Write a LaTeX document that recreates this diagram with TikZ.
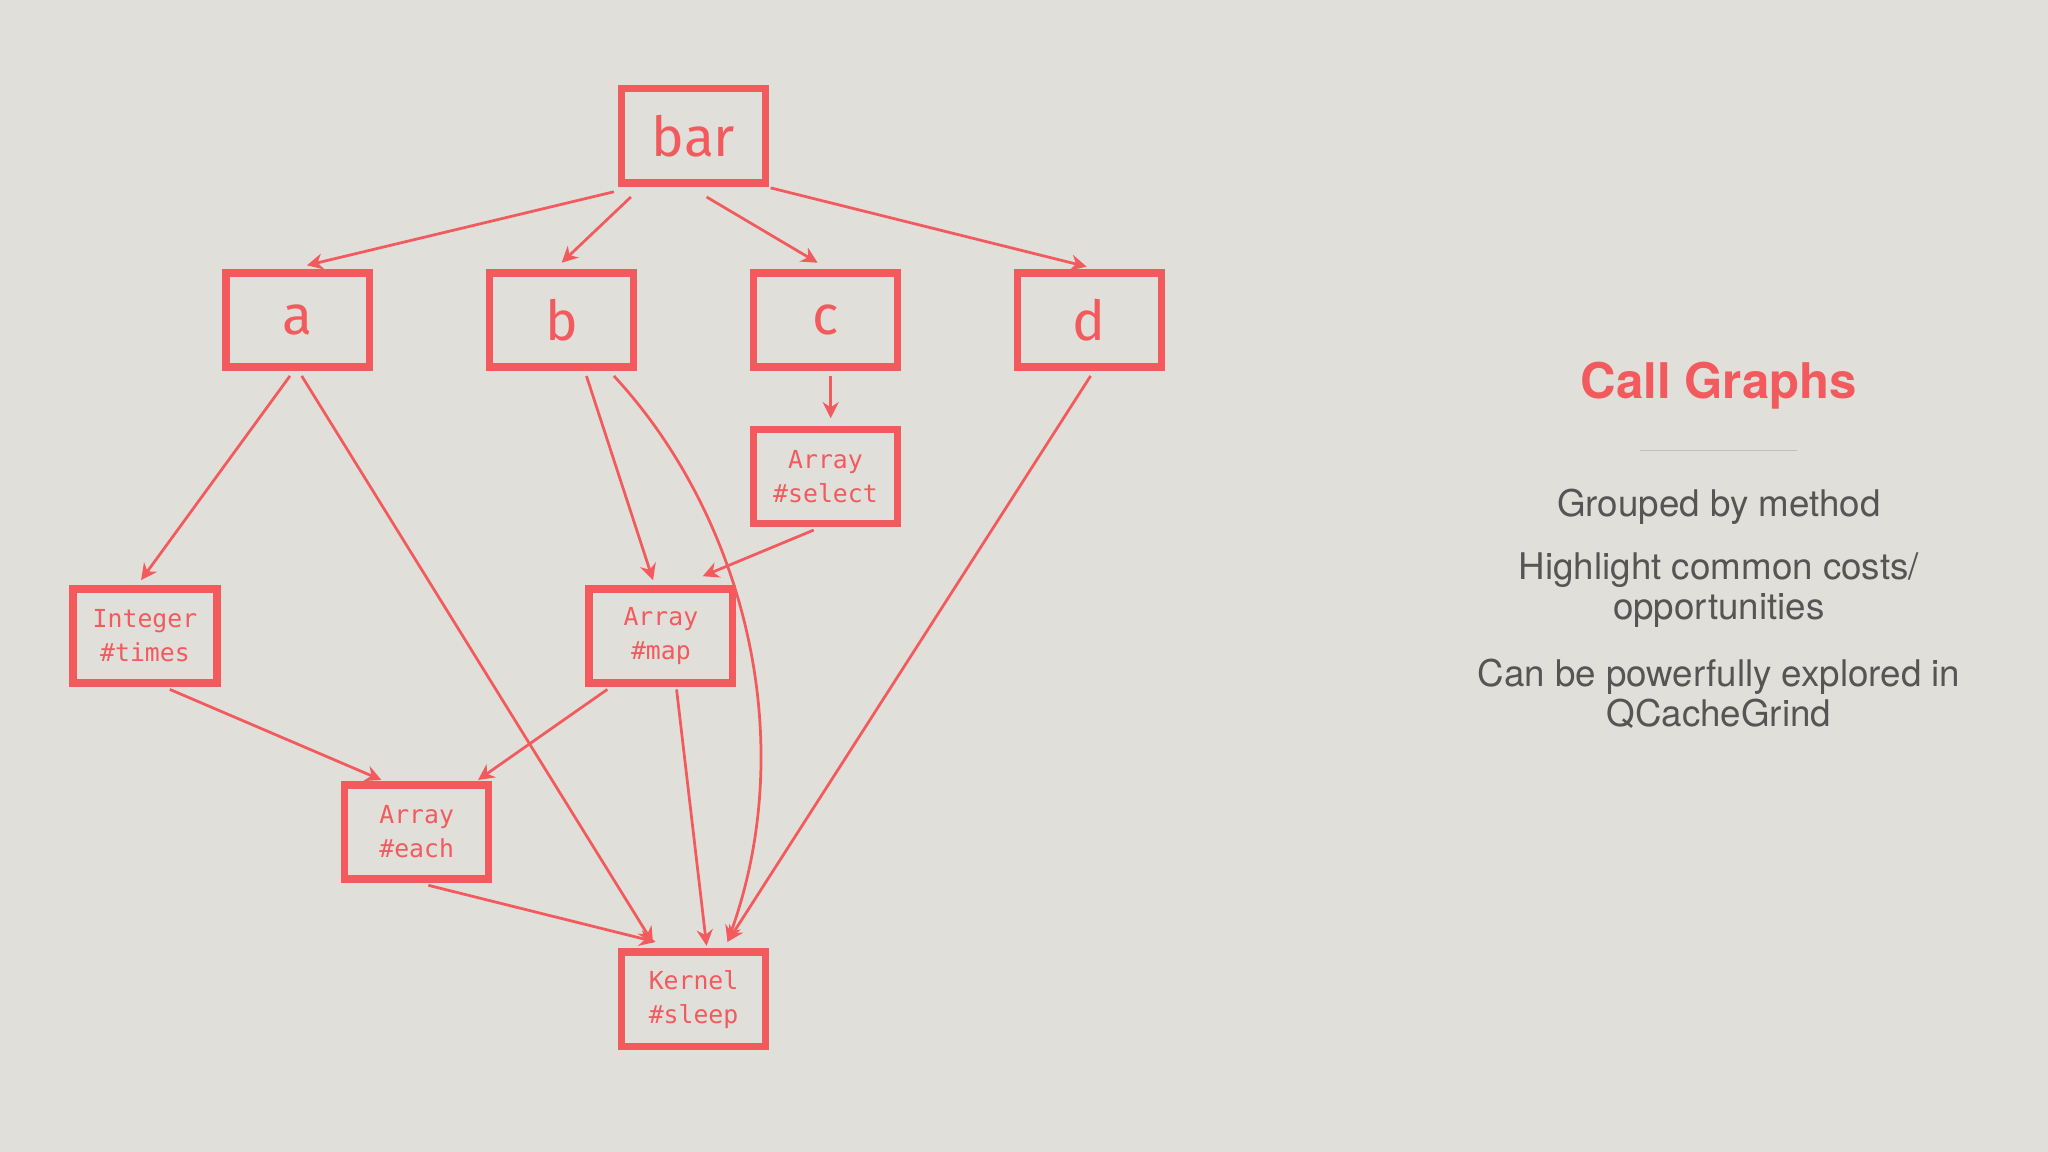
\documentclass[tikz,border=0pt]{standalone}
\usepackage{fontspec}
\setmainfont{TeX Gyre Heros}
\newfontfamily\labfont{Fira Sans}
\newfontfamily\codefont{DejaVu Sans Mono}
\usetikzlibrary{arrows.meta}
\definecolor{bgc}{HTML}{E0DFD9}
\definecolor{redc}{HTML}{F25A5E}
\definecolor{txtc}{HTML}{555555}
\tikzset{
  box/.style={draw=redc,line width=1.6pt,minimum width=1.1cm,minimum height=0.72cm,inner sep=0pt,text=redc,align=center},
  big/.style={box,font=\labfont\fontsize{12}{12}\selectfont},
  code/.style={box,font=\codefont\fontsize{5.4}{7.4}\selectfont},
  edge/.style={draw=redc,line width=0.6pt,-{Stealth[length=3.5pt,width=3.5pt]}},
}
\begin{document}
\begin{tikzpicture}[x=0.01cm,y=-0.01cm]
\fill[bgc] (0,0) rectangle (1568,882);
\useasboundingbox (0,0) rectangle (1568,882);
\node[big] (bar) at (531,104) {bar};
\node[big] (a) at (228,245) {a};
\node[big] (b) at (430,245) {b};
\node[big] (c) at (632,245) {c};
\node[big] (d) at (834,245) {d};
\node[code] (sel) at (632,365) {Array\\\#select};
\node[code] (int) at (111,487) {Integer\\\#times};
\node[code] (map) at (506,487) {Array\\\#map};
\node[code] (each) at (319,637) {Array\\\#each};
\node[code] (ker) at (531,765) {Kernel\\\#sleep};
\draw[edge] ([shift={(-61,4)}]bar.south) -- ([shift={(7,-3)}]a.north);
\draw[edge] ([shift={(-48,8)}]bar.south) -- ([shift={(0,-5)}]b.north);
\draw[edge] ([shift={(10,8)}]bar.south) -- ([shift={(-6,-5)}]c.north);
\draw[edge] ([shift={(59,1)}]bar.south) -- ([shift={(-2,-2)}]d.north);
\draw[edge] ([shift={(4,4)}]c.south) -- ([shift={(4,-6)}]sel.north);
\draw[edge] ([shift={(-6,4)}]a.south) -- ([shift={(-3,-4)}]int.north);
\draw[edge] ([shift={(3,4)}]a.south) -- ([shift={(-31,-4)}]ker.north);
\draw[edge] ([shift={(19,4)}]b.south) -- ([shift={(-6,-4)}]map.north);
\draw[edge] ([shift={(40,4)}]b.south) .. controls (565,390) and (615,560) .. ([shift={(26,-5)}]ker.north);
\draw[edge] ([shift={(-9,2)}]sel.south) -- ([shift={(32,-7)}]map.north);
\draw[edge] ([shift={(19,2)}]int.south) -- ([shift={(-27,-1)}]each.north);
\draw[edge] ([shift={(-41,2)}]map.south) -- ([shift={(47,-1)}]each.north);
\draw[edge] ([shift={(12,2)}]map.south) -- ([shift={(10,-2)}]ker.north);
\draw[edge] ([shift={(9,2)}]each.south) -- ([shift={(-29,-5)}]ker.north);
\draw[edge] ([shift={(1,4)}]d.south) -- ([shift={(26,-5)}]ker.north);
\node[text=redc,font=\bfseries\fontsize{10.7}{12}\selectfont] (title) at (1316,295) {Call Graphs};
\draw[black!25,line width=0.3pt] (1256,345) -- (1376,345);
\node[text=txtc,align=center,font=\fontsize{8}{8.8}\selectfont] (t1) at (1316,388) {Grouped by method};
\node[text=txtc,align=center,font=\fontsize{8}{8.8}\selectfont] (t2) at (1316,452) {Highlight common costs/\\opportunities};
\node[text=txtc,align=center,font=\fontsize{8}{8.8}\selectfont] (t3) at (1316,531) {Can be powerfully explored in\\QCacheGrind};
\end{tikzpicture}
\end{document}
